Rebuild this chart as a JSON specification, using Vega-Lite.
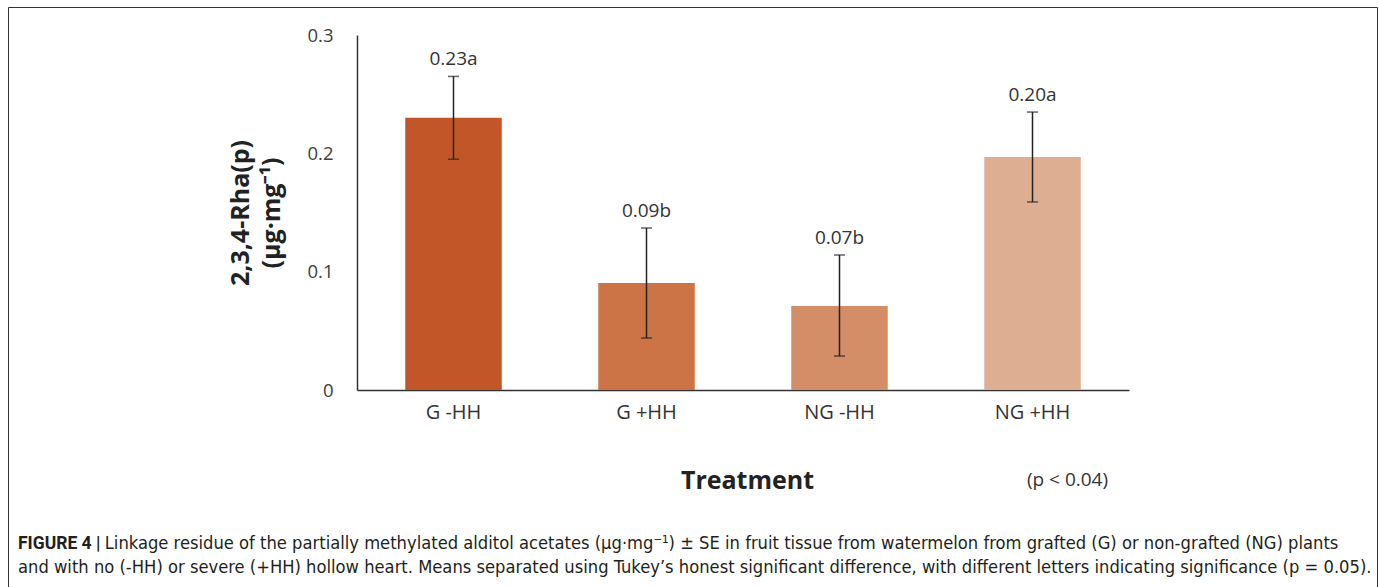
{
  "$schema": "https://vega.github.io/schema/vega-lite/v6.json",
  "width": 1369,
  "height": 585,
  "autosize": {"type": "none"},
  "padding": {"left": 8, "top": 7, "right": 2, "bottom": 0},
  "background": "white",
  "view": {"stroke": "#333333", "strokeWidth": 1, "fill": "white"},
  "config": {"font": "Open Sans"},
  "title": {
    "text": "FIGURE 4 |",
    "subtitle": [
      "\u200b\u2003\u2003\u2003\u2003\u2002\u2009\u2009\u2009\u2009Linkage residue of the partially methylated alditol acetates (µg·mg⁻¹) ± SE in fruit tissue from watermelon from grafted (G) or non-grafted (NG) plants",
      "and with no (-HH) or severe (+HH) hollow heart. Means separated using Tukey’s honest significant difference, with different letters indicating significance (p = 0.05)."
    ],
    "orient": "bottom",
    "anchor": "start",
    "offset": -57,
    "dx": 10,
    "baseline": "top",
    "font": "Roboto",
    "fontSize": 17.5,
    "fontWeight": "bold",
    "color": "#231f20",
    "subtitleFont": "DejaVu Sans Condensed, Liberation Sans, sans-serif",
    "subtitleFontSize": 18.2,
    "subtitleFontWeight": "normal",
    "subtitleColor": "#231f20",
    "subtitleLineHeight": 24,
    "subtitlePadding": -17.5
  },
  "data": {
    "values": [
      {"treatment": "G -HH", "mean": 0.23, "lo": 0.195, "hi": 0.265, "label": "0.23a"},
      {"treatment": "G +HH", "mean": 0.0904, "lo": 0.0439, "hi": 0.1369, "label": "0.09b"},
      {"treatment": "NG -HH", "mean": 0.071, "lo": 0.0287, "hi": 0.1141, "label": "0.07b"},
      {"treatment": "NG +HH", "mean": 0.1969, "lo": 0.1589, "hi": 0.2349, "label": "0.20a"}
    ]
  },
  "encoding": {
    "x": {
      "field": "treatment",
      "type": "nominal",
      "sort": null,
      "scale": {"range": [349, 1121], "paddingInner": 0.5, "paddingOuter": 0.25},
      "axis": {
        "orient": "bottom",
        "offset": -202,
        "ticks": false,
        "tickSize": 0,
        "labelPadding": 12,
        "labelFontSize": 20,
        "labelColor": "#333333",
        "labelAngle": 0,
        "domainColor": "#333333",
        "domainWidth": 1.5,
        "grid": false,
        "title": "Treatment",
        "titleFontSize": 25,
        "titleFontWeight": "bold",
        "titleColor": "#222222",
        "titleX": 739,
        "titleY": 90,
        "titleBaseline": "middle",
        "titleAlign": "center"
      }
    },
    "y": {
      "type": "quantitative",
      "scale": {"domain": [0, 0.3], "range": [383, 28], "nice": false, "zero": true}
    }
  },
  "layer": [
    {
      "mark": {"type": "bar"},
      "encoding": {
        "y": {
          "field": "mean",
          "type": "quantitative",
          "axis": {
            "orient": "left",
            "offset": -349,
            "values": [0, 0.1, 0.2, 0.3],
            "format": "~g",
            "ticks": false,
            "tickSize": 0,
            "labelPadding": 24,
            "labelFontSize": 18.5,
            "labelColor": "#404040",
            "grid": false,
            "domainColor": "#333333",
            "domainWidth": 1.5,
            "title": ["2,3,4-Rha(p)", "(µg·mg⁻¹)"],
            "titleFontSize": 25,
            "titleFontWeight": "bold",
            "titleColor": "#222222",
            "titleX": -109,
            "titleAngle": -90,
            "titleBaseline": "alphabetic",
            "titleAlign": "center",
            "titleLineHeight": 31
          }
        },
        "color": {
          "field": "treatment",
          "type": "nominal",
          "scale": {
            "domain": ["G -HH", "G +HH", "NG -HH", "NG +HH"],
            "range": ["#c25628", "#cc7445", "#d38d67", "#ddae91"]
          },
          "legend": null
        }
      }
    },
    {
      "mark": {"type": "rule", "color": "#222222", "strokeWidth": 1.5},
      "encoding": {
        "y": {"field": "lo", "type": "quantitative"},
        "y2": {"field": "hi"}
      }
    },
    {
      "mark": {"type": "tick", "color": "#222222", "thickness": 1.5, "size": 11},
      "encoding": {"y": {"field": "lo", "type": "quantitative"}}
    },
    {
      "mark": {"type": "tick", "color": "#222222", "thickness": 1.5, "size": 11},
      "encoding": {"y": {"field": "hi", "type": "quantitative"}}
    },
    {
      "mark": {"type": "text", "dy": -17, "fontSize": 19, "color": "#333333", "baseline": "middle"},
      "encoding": {
        "y": {"field": "hi", "type": "quantitative"},
        "text": {"field": "label"}
      }
    },
    {
      "data": {"values": [{"note": "(p < 0.04)"}]},
      "mark": {"type": "text", "dx": 35, "fontSize": 19, "color": "#333333", "baseline": "middle"},
      "encoding": {
        "x": {"datum": "NG +HH"},
        "y": {"datum": -0.076},
        "text": {"field": "note"}
      }
    }
  ]
}
